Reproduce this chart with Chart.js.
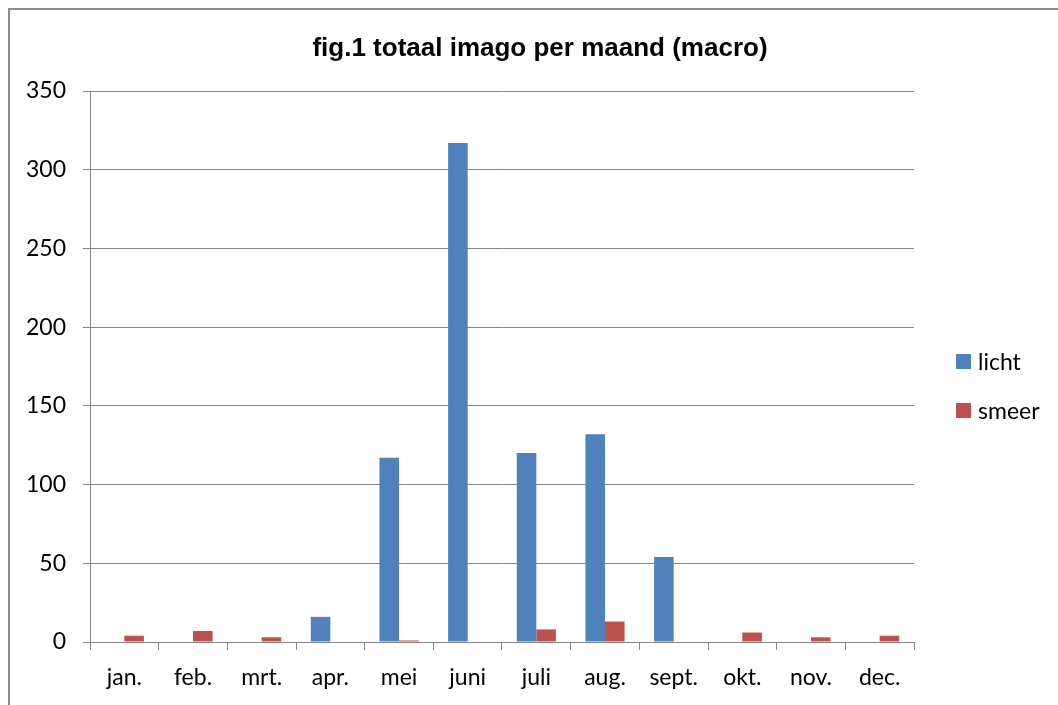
<!DOCTYPE html>
<html>
<head>
<meta charset="utf-8">
<script src="https://cdn.jsdelivr.net/npm/chart.js@4.4.1/dist/chart.umd.min.js"></script>
<style>
  html, body { margin: 0; padding: 0; background: #fff; }
  #wrap { position: relative; width: 1058px; height: 705px; overflow: hidden; }
  #frame {
    position: absolute; left: 8px; top: 8px; width: 1100px; height: 800px;
    border-left: 2px solid #8c8c8c; border-top: 2px solid #8c8c8c;
  }
  #chart { position: absolute; left: 0; top: 0; }
  #title {
    position: absolute; left: 0; width: 1080px; top: 32px; text-align: center;
    font: bold 26px "Liberation Sans", Arial, sans-serif; color: #000;
  }
  .legend {
    position: absolute; left: 956px; font: 23px Lato, "Open Sans", sans-serif; color: #000;
    display: flex; align-items: center; height: 24px;
  }
  .legend i { display: inline-block; width: 15px; height: 15px; margin-right: 7px; }
</style>
</head>
<body>
<div id="wrap">
  <div id="frame"></div>
  <canvas id="chart" width="1058" height="705"></canvas>
  <div id="title">fig.1 totaal imago per maand (macro)</div>
  <div class="legend" style="top:349px"><i style="background:#4F81BD"></i>licht</div>
  <div class="legend" style="top:398px"><i style="background:#C0504D"></i>smeer</div>
</div>
<script>
const months = ["jan.", "feb.", "mrt.", "apr.", "mei", "juni", "juli", "aug.", "sept.", "okt.", "nov.", "dec."];
const licht = [0, 0, 0, 16, 117, 317, 120, 132, 54, 0, 0, 0];
const smeer = [4, 7, 3, 0, 1, 0, 8, 13, 0, 6, 3, 4];
const yMax = 350;
const yStep = 50;

const gridColor = "#868686";
const tickFont = { family: "Lato, 'Open Sans', sans-serif", size: 23 };

new Chart(document.getElementById("chart"), {
  type: "bar",
  data: {
    labels: months,
    datasets: [
      { label: "licht", data: licht, backgroundColor: "#4F81BD" },
      { label: "smeer", data: smeer, backgroundColor: "#C0504D" },
    ],
  },
  options: {
    responsive: false,
    animation: false,
    layout: { padding: { left: 0, right: 144, top: 91, bottom: 0 } },
    datasets: {
      bar: { categoryPercentage: 0.57, barPercentage: 1 },
    },
    plugins: {
      legend: { display: false },
      title: { display: false },
      tooltip: { enabled: false },
    },
    scales: {
      x: {
        grid: { drawOnChartArea: false, offset: true, tickLength: 8, color: gridColor },
        border: { color: gridColor },
        ticks: { color: "#000", font: tickFont, padding: 14 },
        afterFit: (scale) => { scale.height = 63; },
      },
      y: {
        min: 0,
        max: yMax,
        grid: { color: gridColor, tickLength: 7 },
        border: { color: gridColor },
        ticks: { stepSize: yStep, color: "#000", font: tickFont, padding: 17 },
        afterFit: (scale) => { scale.width = 90; },
      },
    },
  },
});
</script>
</body>
</html>
